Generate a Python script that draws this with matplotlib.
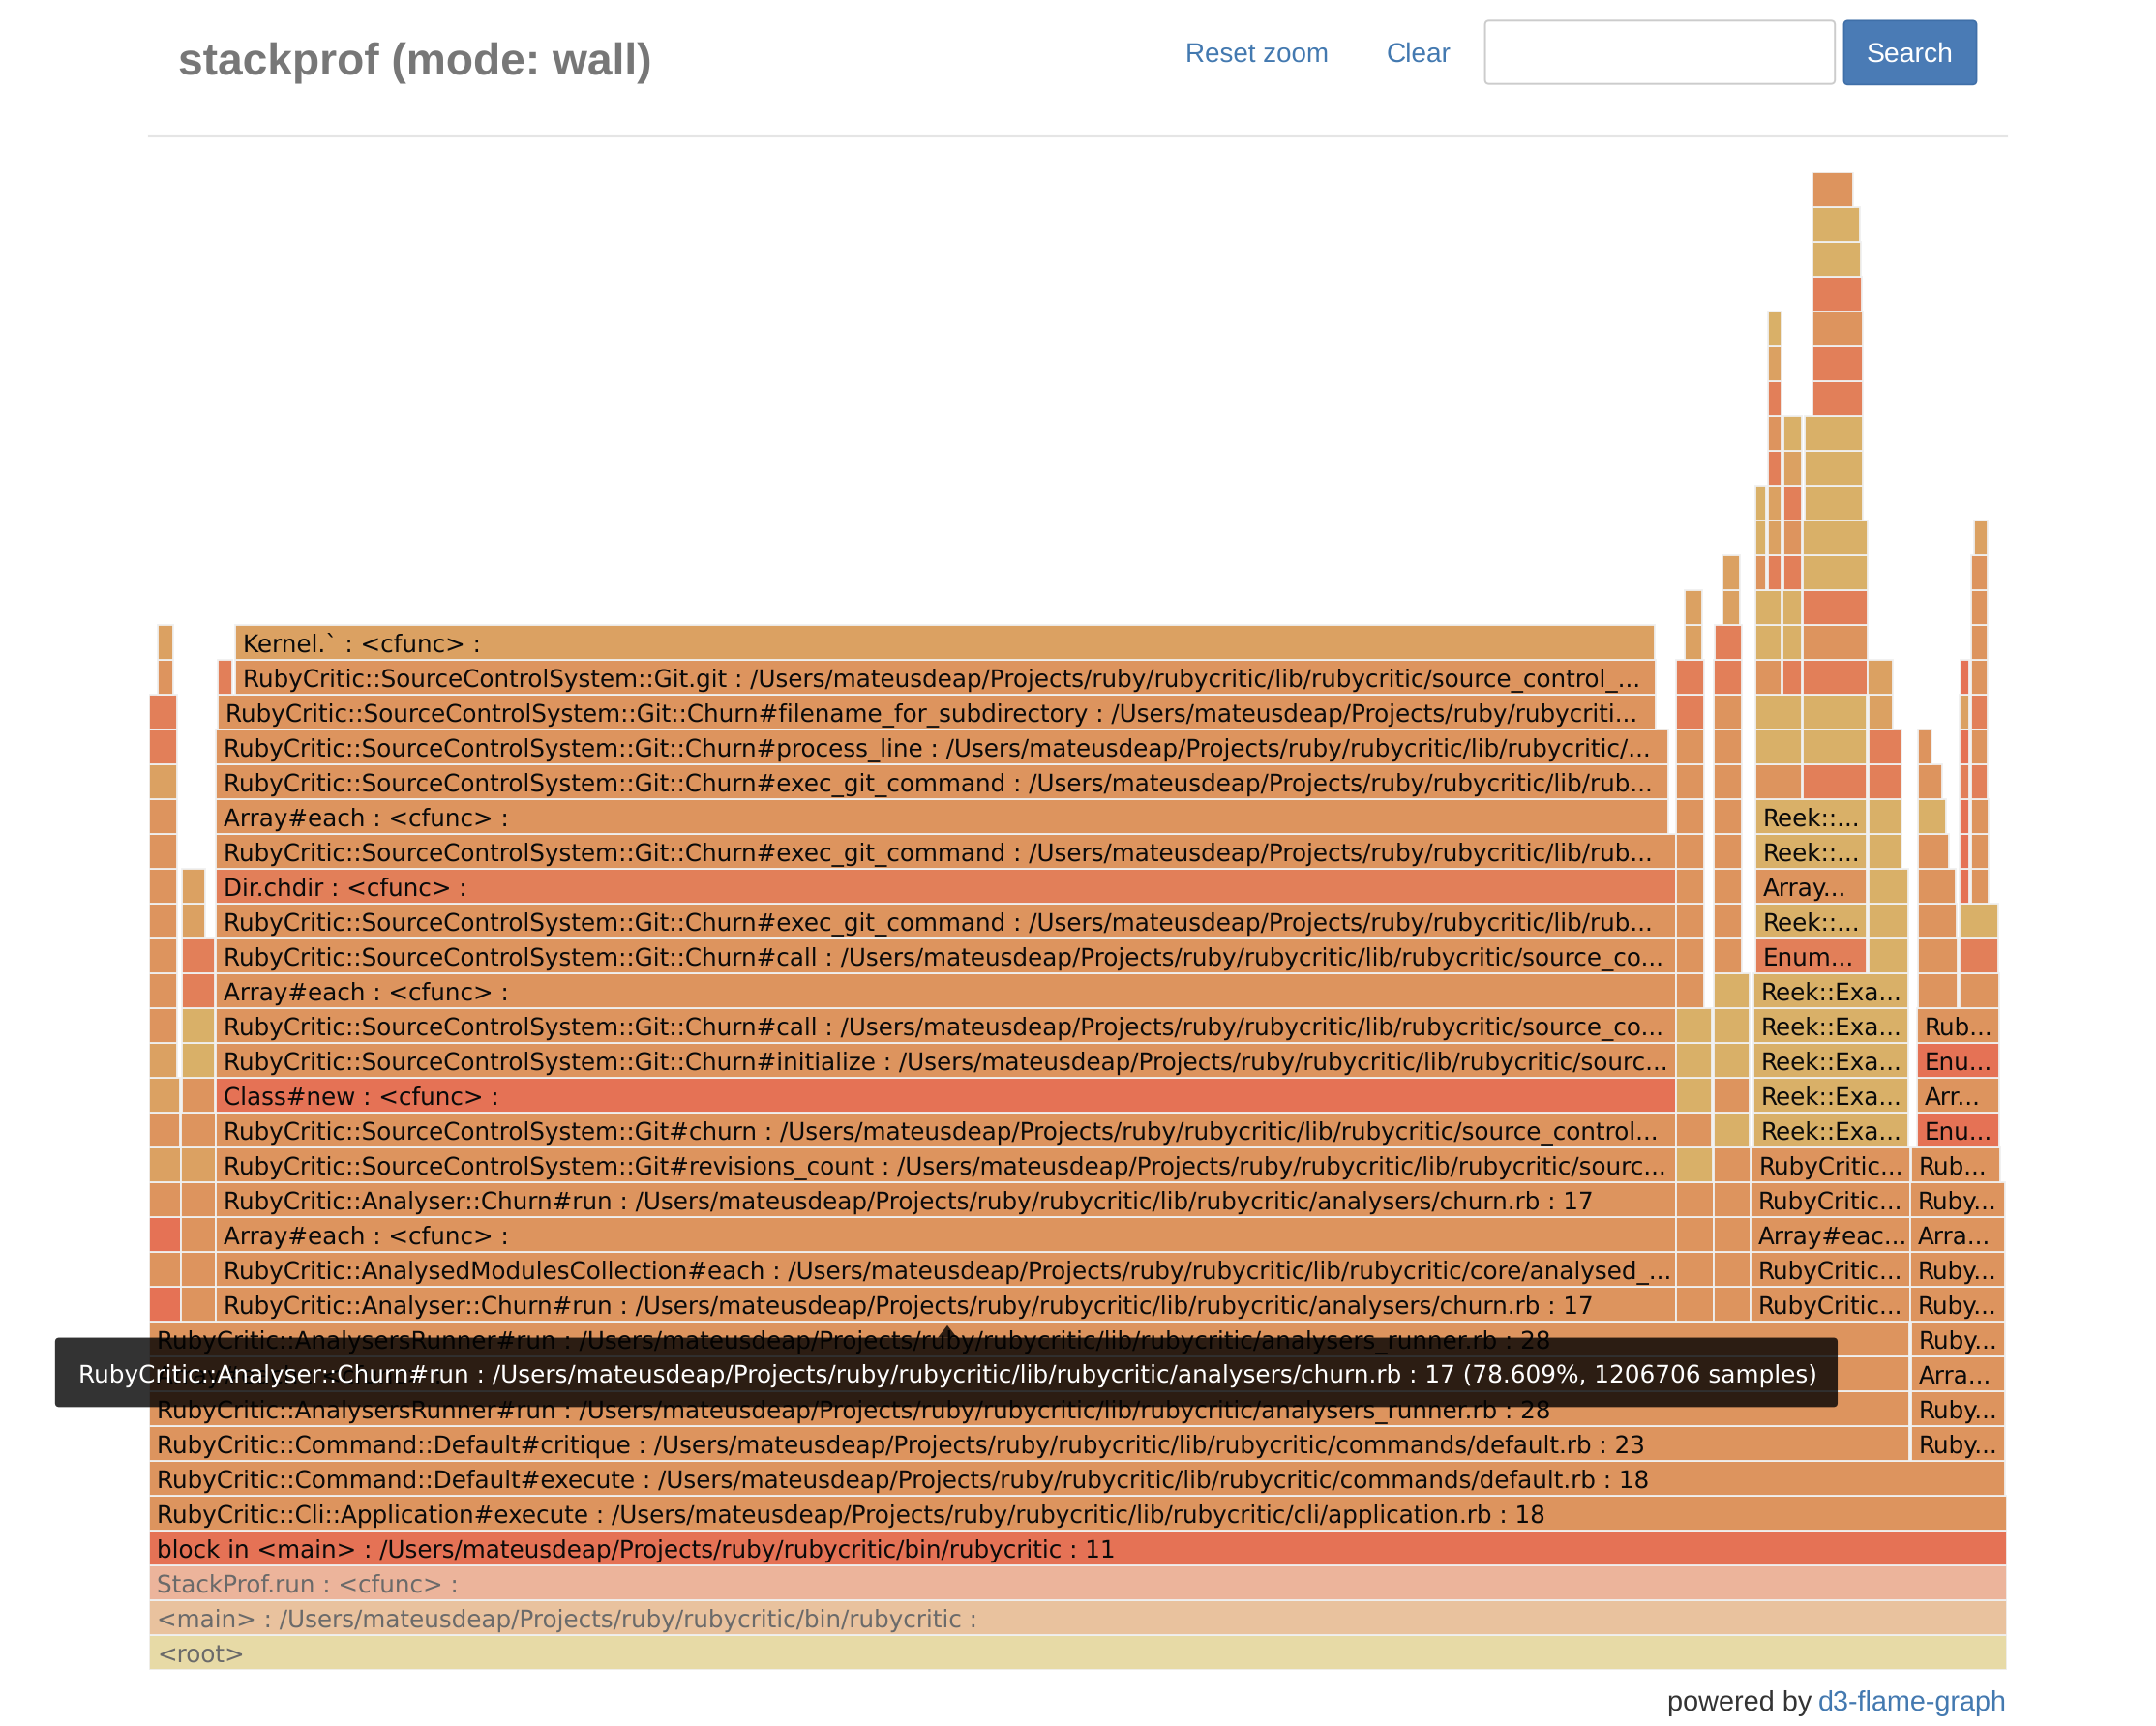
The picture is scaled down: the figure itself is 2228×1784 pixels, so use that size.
import matplotlib
matplotlib.use("Agg")
import matplotlib.pyplot as plt
from matplotlib.patches import FancyBboxPatch, Polygon

plt.rcParams["text.hinting"] = "no_hinting"
plt.rcParams["text.hinting_factor"] = 8

# shades
R = "#E27F59"; C = "#E57255"; O = "#DD945E"; Y = "#D9B068"; A = "#DBA162"
F1 = "#ECB49B"; F2 = "#E9C29E"; F3 = "#E7DAA6"
SHADES = {"R": R, "C": C, "O": O, "Y": Y, "A": A, "F1": F1, "F2": F2, "F3": F3}

P = "/Users/mateusdeap/Projects/ruby/rubycritic/"
RC = "RubyCritic::SourceControlSystem::"
CHURN_RUN = "RubyCritic::Analyser::Churn#run : " + P + "lib/rubycritic/analysers/churn.rb : 17"
RUNNER = "RubyCritic::AnalysersRunner#run : " + P + "lib/rubycritic/analysers_runner.rb : 28"
EXEC_GIT = RC + "Git::Churn#exec_git_command : " + P + "lib/rub..."
CHURN_CALL = RC + "Git::Churn#call : " + P + "lib/rubycritic/source_co..."

# each level: (first sample position, last sample position, shade, label)
level_00 = [(108.5, 1459.5, "F3", "<root>")]
level_01 = [(108.5, 1459.5, "F2", "<main> : " + P + "bin/rubycritic :")]
level_02 = [(108.5, 1459.5, "F1", "StackProf.run : <cfunc> :")]
level_03 = [(108.5, 1459.5, "C", "block in <main> : " + P + "bin/rubycritic : 11")]
level_04 = [(108.5, 1459.5, "O", "RubyCritic::Cli::Application#execute : " + P + "lib/rubycritic/cli/application.rb : 18")]
level_05 = [(108.5, 1458.3, "O", "RubyCritic::Command::Default#execute : " + P + "lib/rubycritic/commands/default.rb : 18")]
level_06 = [(108.5, 1388.5, "O", "RubyCritic::Command::Default#critique : " + P + "lib/rubycritic/commands/default.rb : 23"),
            (1390, 1458.3, "O", "Ruby...")]
level_07 = [(108.5, 1388.5, "O", RUNNER), (1390, 1458.3, "O", "Ruby...")]
level_08 = [(108.5, 1388.5, "O", "Array#each : <cfunc> :"), (1390, 1458.3, "O", "Arra...")]
level_09 = [(108.5, 1388.5, "O", RUNNER), (1390, 1458.3, "O", "Ruby...")]
level_10 = [(108.5, 131.5, "C", ""), (131.5, 157, "O", ""), (157, 1219, "O", CHURN_RUN),
            (1219, 1246.3, "O", ""), (1246.3, 1273.1, "O", ""), (1273.1, 1389.2, "O", "RubyCritic..."), (1389.2, 1458.3, "O", "Ruby...")]
level_11 = [(108.5, 131.5, "O", ""), (131.5, 157, "O", ""),
            (157, 1219, "O", "RubyCritic::AnalysedModulesCollection#each : " + P + "lib/rubycritic/core/analysed_..."),
            (1219, 1246.3, "O", ""), (1246.3, 1273.1, "O", ""), (1273.1, 1389.2, "O", "RubyCritic..."), (1389.2, 1458.3, "O", "Ruby...")]
level_12 = [(108.5, 131.5, "C", ""), (131.5, 157, "O", ""), (157, 1219, "O", "Array#each : <cfunc> :"),
            (1219, 1246.3, "O", ""), (1246.3, 1273.1, "O", ""), (1273.1, 1389.2, "O", "Array#eac..."), (1389.2, 1458.3, "O", "Arra...")]
level_13 = [(108.5, 131.5, "O", ""), (131.5, 157, "O", ""), (157, 1219, "O", CHURN_RUN),
            (1219, 1246.3, "O", ""), (1246.3, 1273.1, "O", ""), (1273.1, 1389.2, "O", "RubyCritic..."), (1389.2, 1458.3, "O", "Ruby...")]
level_14 = [(108.5, 131.5, "A", ""), (131.5, 157, "A", ""),
            (157, 1219, "O", RC + "Git#revisions_count : " + P + "lib/rubycritic/sourc..."),
            (1219, 1245.5, "Y", ""), (1246.5, 1273.1, "O", ""), (1273.6, 1389, "O", "RubyCritic..."), (1390, 1454.4, "O", "Rub...")]
level_15 = [(108.5, 131, "O", ""), (131.5, 157, "O", ""),
            (157, 1219, "O", RC + "Git#churn : " + P + "lib/rubycritic/source_control..."),
            (1219, 1245, "O", ""), (1246.5, 1272.5, "Y", ""), (1275, 1388, "Y", "Reek::Exa..."), (1393.9, 1453.8, "C", "Enu...")]
level_16 = [(108.5, 131, "A", ""), (132.5, 156, "O", ""), (157, 1219, "C", "Class#new : <cfunc> :"),
            (1219, 1245, "Y", ""), (1246.5, 1272.5, "O", ""), (1275, 1388, "Y", "Reek::Exa..."), (1393.9, 1453.8, "O", "Arr...")]
level_17 = [(108.5, 128.5, "A", ""), (132.5, 156, "Y", ""),
            (157, 1219, "O", RC + "Git::Churn#initialize : " + P + "lib/rubycritic/sourc..."),
            (1219, 1245, "Y", ""), (1246.5, 1272.5, "Y", ""), (1275, 1388, "Y", "Reek::Exa..."), (1393.9, 1453.8, "C", "Enu...")]
level_18 = [(108.5, 128.5, "O", ""), (132.5, 156, "Y", ""), (157, 1219, "O", CHURN_CALL),
            (1219, 1245, "Y", ""), (1246.5, 1272.5, "Y", ""), (1275, 1388, "Y", "Reek::Exa..."), (1393.9, 1453.8, "O", "Rub...")]
level_19 = [(108.5, 128.5, "O", ""), (132.5, 156, "R", ""), (157, 1219, "O", "Array#each : <cfunc> :"),
            (1219, 1239, "O", ""), (1246.5, 1272.5, "Y", ""), (1275, 1388, "Y", "Reek::Exa..."),
            (1394.8, 1424, "O", ""), (1425.3, 1453.8, "O", "")]
level_20 = [(108.5, 128.5, "O", ""), (132.5, 156, "R", ""), (157, 1219, "O", CHURN_CALL),
            (1219, 1239, "O", ""), (1246.5, 1266.5, "O", ""), (1276.4, 1357.8, "R", "Enum..."), (1359.2, 1388, "Y", ""),
            (1394.8, 1424, "O", ""), (1425.3, 1453.4, "R", "")]
level_21 = [(108.5, 128.5, "O", ""), (132.5, 149, "A", ""), (157, 1219, "O", EXEC_GIT),
            (1219, 1239, "O", ""), (1246.5, 1266.5, "O", ""), (1276.4, 1357.8, "Y", "Reek::..."), (1359.2, 1388, "Y", ""),
            (1394.8, 1423, "O", ""), (1425.3, 1453.4, "Y", "")]
level_22 = [(108.5, 128.5, "O", ""), (132.5, 149, "A", ""), (157, 1219, "R", "Dir.chdir : <cfunc> :"),
            (1219, 1239, "O", ""), (1246.5, 1266.5, "O", ""), (1276.4, 1357.8, "O", "Array..."), (1359.2, 1388, "Y", ""),
            (1394.8, 1422, "O", ""), (1425.3, 1432, "C", ""), (1433.5, 1446, "O", "")]
level_23 = [(108.5, 128.5, "O", ""), (157, 1219, "O", EXEC_GIT),
            (1219, 1239, "O", ""), (1246.5, 1266.5, "O", ""), (1276.4, 1357.8, "Y", "Reek::..."), (1359.2, 1383, "Y", ""),
            (1394.8, 1417.3, "O", ""), (1425.3, 1432, "C", ""), (1433.5, 1446, "O", "")]
level_24 = [(108.5, 128.5, "O", ""), (157, 1213, "O", "Array#each : <cfunc> :"),
            (1219, 1239, "O", ""), (1246.5, 1266.5, "O", ""), (1276.4, 1357.8, "Y", "Reek::..."), (1359.2, 1383, "Y", ""),
            (1394.8, 1415, "Y", ""), (1425.3, 1432, "C", ""), (1433.5, 1446, "O", "")]
level_25 = [(108.5, 128.5, "A", ""), (157, 1213, "O", EXEC_GIT),
            (1219, 1239, "O", ""), (1246.5, 1266.5, "O", ""), (1276.4, 1310.4, "O", ""), (1311.3, 1357.8, "R", ""), (1359.2, 1383, "R", ""),
            (1394.8, 1412.3, "O", ""), (1425.3, 1432, "R", ""), (1433.5, 1445.3, "R", "")]
level_26 = [(108.5, 128.5, "R", ""), (157, 1213, "O", RC + "Git::Churn#process_line : " + P + "lib/rubycritic/..."),
            (1219, 1239, "O", ""), (1246.5, 1266.5, "O", ""), (1276.4, 1310.4, "Y", ""), (1311.3, 1357.8, "Y", ""), (1359.2, 1383, "R", ""),
            (1394.8, 1404.5, "O", ""), (1425.3, 1432, "C", ""), (1433.5, 1445.3, "O", "")]
level_27 = [(108.5, 128.5, "R", ""), (158.2, 1204.5, "O", RC + "Git::Churn#filename_for_subdirectory : " + P[:-11] + "rubycriti..."),
            (1219, 1239, "R", ""), (1246.5, 1266.5, "O", ""), (1276.4, 1310.4, "Y", ""), (1311.3, 1357.8, "Y", ""), (1359.2, 1376.4, "A", ""),
            (1425.3, 1432, "A", ""), (1433.5, 1445.3, "R", "")]
level_28 = [(114.5, 126, "O", ""), (158.2, 169, "R", ""),
            (171, 1204.5, "O", RC + "Git.git : " + P + "lib/rubycritic/source_control_..."),
            (1219, 1239, "R", ""), (1246.5, 1266.5, "R", ""), (1276.4, 1295.5, "O", ""), (1296.2, 1310.4, "R", ""), (1311, 1358, "R", ""), (1358.5, 1376.4, "A", ""),
            (1426, 1432, "C", ""), (1433.5, 1445.3, "O", "")]
level_29 = [(114.5, 126, "A", ""), (171, 1203.5, "A", "Kernel.` : <cfunc> :"),
            (1225, 1237.8, "A", ""), (1247, 1266.5, "R", ""), (1276.4, 1295.5, "Y", ""), (1296.2, 1310.4, "Y", ""), (1311, 1358, "O", ""),
            (1433.5, 1445.3, "O", "")]
level_30 = [(1225, 1237.8, "A", ""), (1253, 1265.5, "A", ""), (1276.4, 1295.5, "Y", ""), (1296.2, 1310.4, "Y", ""), (1311, 1358, "R", ""),
            (1433.5, 1445.3, "O", "")]
level_31 = [(1253, 1265.5, "A", ""), (1276.5, 1284.5, "O", ""), (1285.5, 1295.5, "R", ""), (1296.8, 1310.4, "R", ""), (1311, 1358, "Y", ""),
            (1433.5, 1445.3, "O", "")]
level_32 = [(1276.5, 1284.5, "Y", ""), (1285.5, 1295.5, "A", ""), (1296.8, 1310.4, "O", ""), (1311, 1358, "Y", ""), (1435.9, 1445.3, "A", "")]
level_33 = [(1276.5, 1284.5, "Y", ""), (1285.5, 1295.5, "A", ""), (1296.8, 1310.4, "R", ""), (1312.8, 1354.9, "Y", "")]
level_34 = [(1285.5, 1295.5, "R", ""), (1296.8, 1310.4, "A", ""), (1312.8, 1354.9, "Y", "")]
level_35 = [(1285.5, 1295.5, "O", ""), (1296.8, 1310.4, "Y", ""), (1312.8, 1354.9, "Y", "")]
level_36 = [(1285.5, 1295.5, "R", ""), (1318, 1354.9, "R", "")]
level_37 = [(1285.5, 1295.5, "A", ""), (1318, 1354.9, "R", "")]
level_38 = [(1285.5, 1295.5, "Y", ""), (1318, 1354.9, "O", "")]
level_39 = [(1318, 1354, "R", "")]
level_40 = [(1318, 1353, "Y", "")]
level_41 = [(1318, 1352.5, "Y", "")]
level_42 = [(1318, 1347.5, "O", "")]
levels = [level_00, level_01, level_02, level_03, level_04, level_05, level_06, level_07, level_08, level_09,
          level_10, level_11, level_12, level_13, level_14, level_15, level_16, level_17, level_18, level_19,
          level_20, level_21, level_22, level_23, level_24, level_25, level_26, level_27, level_28, level_29,
          level_30, level_31, level_32, level_33, level_34, level_35, level_36, level_37, level_38, level_39,
          level_40, level_41, level_42]

title = "stackprof (mode: wall)"
tooltip = CHURN_RUN + " (78.609%, 1206706 samples)"

W, H = 2228, 1784
SW, SH = 1568.0, 1255.5
fig = plt.figure(figsize=(W / 100, H / 100), dpi=100, facecolor="white")

TOP, BOTTOM = 125.0, 1214.5
LEFT, RIGHT = 108.5, 1459.5
ax = fig.add_axes([LEFT / SW, 1 - BOTTOM / SH, (RIGHT - LEFT) / SW, (BOTTOM - TOP) / SH])
ax.set_xlim(LEFT, RIGHT)
ax.set_ylim(-0.5, 42.5)
ax.axis("off")

LABEL_SIZE = 17.75
for lv, frames in enumerate(levels):
    for start, end, shade, label in frames:
        ax.barh(lv, end - start, left=start, height=1.0, color=SHADES[shade],
                edgecolor="#F0F0F0", linewidth=1.3, zorder=2)
        if label:
            col = "#6a6a6a" if shade in ("F1", "F2", "F3") else "#0a0a0a"
            ax.text(start + 5.5, lv - 0.09, label, va="center", ha="left", fontsize=LABEL_SIZE,
                    color=col, family="DejaVu Sans", zorder=3)

ov = fig.add_axes([0, 0, 1, 1], facecolor="none")
ov.set_xlim(0, SW)
ov.set_ylim(SH, 0)
ov.axis("off")

HEAD = "Liberation Sans"
BLUE = "#4379B0"
ov.text(129.5, 45.5, title, fontsize=33.2, fontweight="bold", color="#777777", family=HEAD, va="center", ha="left")
ov.text(862, 39.5, "Reset zoom", fontsize=20.0, color=BLUE, family=HEAD, va="center", ha="left")
ov.text(1008.5, 39.5, "Clear", fontsize=20.2, color=BLUE, family=HEAD, va="center", ha="left")
ov.add_patch(FancyBboxPatch((1080, 15), 254.5, 46, boxstyle="round,pad=0,rounding_size=3", facecolor="white",
                            edgecolor="#CCCCCC", linewidth=1.4))
ov.add_patch(FancyBboxPatch((1341, 15), 96.5, 46.5, boxstyle="round,pad=0,rounding_size=3", facecolor="#4A7BB5",
                            edgecolor="#3F6FA8", linewidth=1.2))
ov.text(1389, 39.5, "Search", fontsize=20.4, color="white", family=HEAD, va="center", ha="center")
ov.plot([108.5, 1459.5], [99, 99], color="#E5E5E5", lw=1.5)
ov.text(1318, 1239, "powered by", fontsize=20.8, color="#333333", family=HEAD, va="center", ha="right")
ov.text(1459.5, 1239, "d3-flame-graph", fontsize=20.7, color=BLUE, family=HEAD, va="center", ha="right")

ov.add_patch(FancyBboxPatch((42, 975), 1292.5, 46.5, boxstyle="round,pad=2,rounding_size=3", facecolor="black",
                            edgecolor="none", alpha=0.8, zorder=5))
ov.add_patch(Polygon([[682, 973], [689, 964], [696, 973]], closed=True, facecolor="black", edgecolor="none",
                     alpha=0.8, zorder=5))
ov.text(57, 1000.5, tooltip, fontsize=17.84, color="white", family="DejaVu Sans", va="center", ha="left", zorder=6)

fig.savefig("out.png", dpi=100, facecolor="white")
